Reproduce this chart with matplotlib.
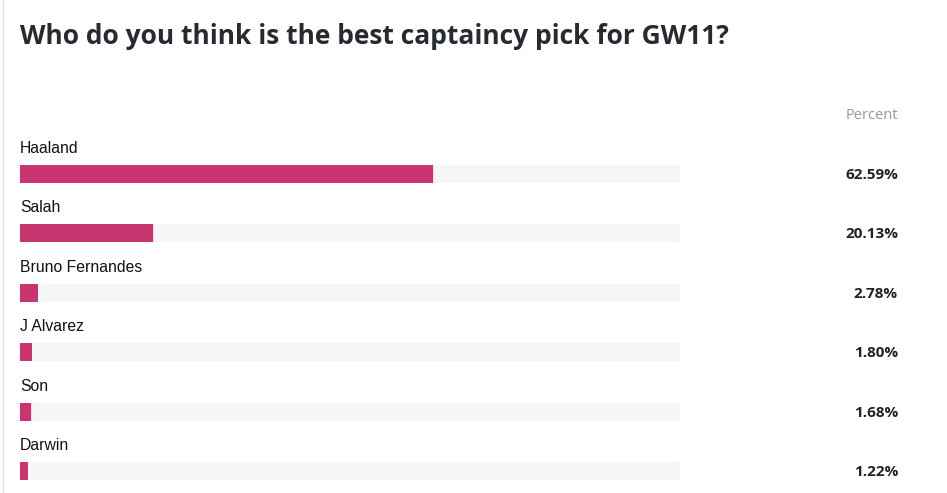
import numpy as np
import matplotlib.pyplot as plt
from matplotlib.lines import Line2D

players = ['Haaland', 'Salah', 'Bruno Fernandes', 'J Alvarez', 'Son', 'Darwin']
percent = [62.59, 20.13, 2.78, 1.80, 1.68, 1.22]

W, H = 947, 493
fig = plt.figure(figsize=(W/100, H/100), dpi=100)
fig.patch.set_facecolor('white')

# row layout in pixels
row0 = 174.0
step = 59.4
top_px = row0 - step/2
ax_h = 6*step
ax = fig.add_axes([20/W, 1 - (top_px + ax_h)/H, 660/W, ax_h/H])
ax.set_xlim(0, 100)
ax.set_ylim(5.5, -0.5)
ax.axis('off')

y = np.arange(len(players))
bh = 18/step
ax.barh(y, [100]*len(players), height=bh, color='#f5f6f6', zorder=1)
ax.barh(y, percent, height=bh, color='#c9366f', zorder=2)

xr = (898-20)/660*100
for i, (p, v) in enumerate(zip(players, percent)):
    ax.text(0, i - 25.5/step, p, ha='left', va='center', fontsize=11.3,
            family='Liberation Sans', color='#111111', clip_on=False)
    ax.text(xr, i + 1/step, f'{v:.2f}%', ha='right', va='center', fontsize=11,
            family='Open Sans', fontweight='bold', color='#222222', clip_on=False)

ax.text(xr, -58/step, 'Percent', ha='right', va='center', fontsize=10.5,
        family='Open Sans', color='#999999', clip_on=False)

fig.text(20/W, 1 - 37/H, 'Who do you think is the best captaincy pick for GW11?',
         ha='left', va='center', fontsize=19, family='Open Sans',
         fontweight='bold', color='#262a31')

fig.add_artist(Line2D([2.5/W, 2.5/W], [0, 1], color='#dddddd', lw=1))

plt.savefig('out.png', dpi=100, facecolor='white')
